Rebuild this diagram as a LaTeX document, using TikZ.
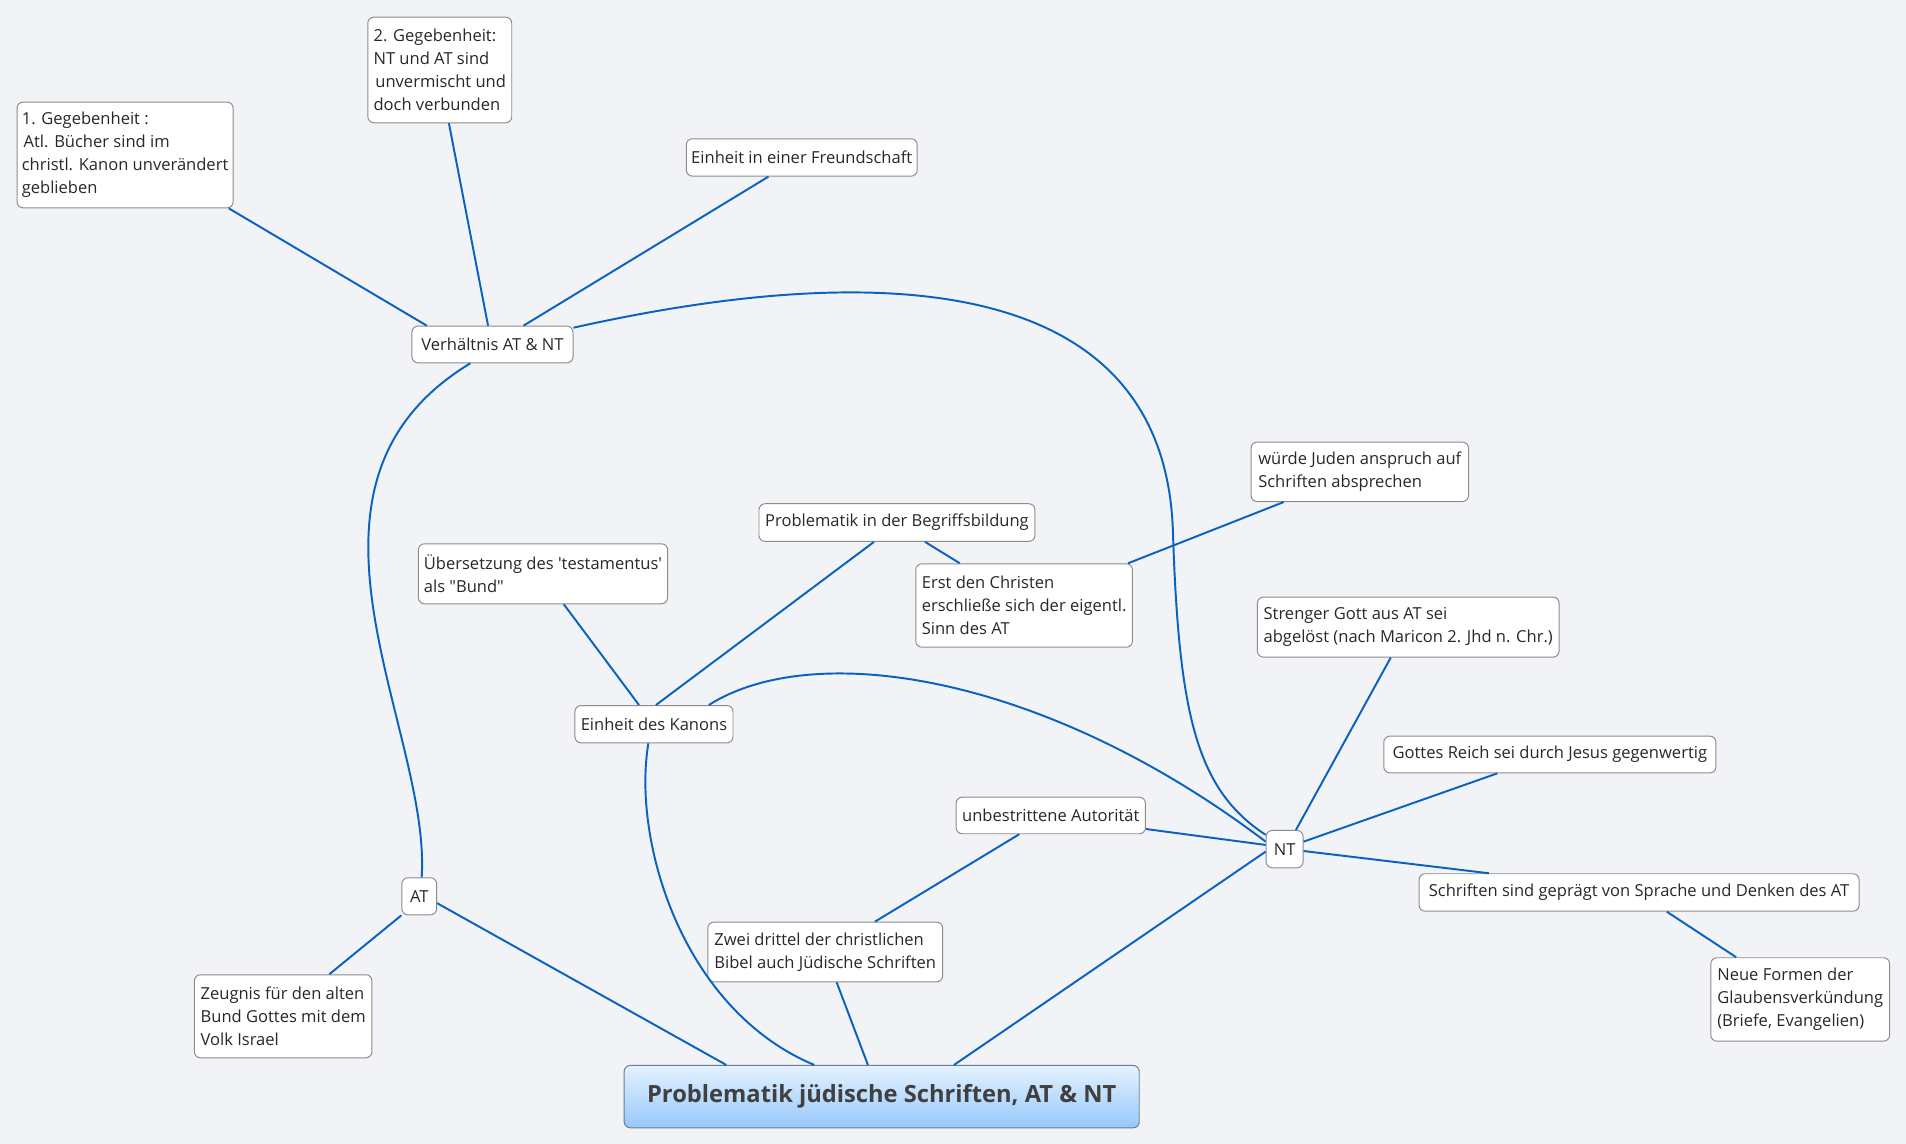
\documentclass[tikz,border=0pt]{standalone}
\usepackage{fontspec}
\setmainfont{Open Sans}[Ligatures=TeXOff]
\definecolor{bg}{RGB}{241,243,246}
\definecolor{ln}{RGB}{10,98,192}
\definecolor{bord}{RGB}{140,140,140}
\definecolor{txt}{RGB}{40,40,40}
\definecolor{mtop}{RGB}{228,242,255}
\definecolor{mbot}{RGB}{150,200,250}
\definecolor{mbord}{RGB}{110,125,140}
\definecolor{mtxt}{RGB}{64,64,64}
\tikzset{
  bx/.style={draw=bord, line width=0.8pt, fill=white, rounded corners=5pt, inner sep=0pt,
    anchor=north west, align=left, text=txt, font=\fontsize{13.6}{19}\selectfont},
  mainbx/.style={draw=mbord, line width=0.8pt, top color=mtop, bottom color=mbot, rounded corners=5pt,
    inner sep=0pt, anchor=north west, text=mtxt, font=\fontsize{19.5}{23}\selectfont\bfseries},
  cn/.style={draw=ln, line width=1.6pt},
}
\begin{document}
\begin{tikzpicture}[x=1pt,y=-1pt]
\path[use as bounding box, fill=bg] (0,0) rectangle (1568,941.1);
% nodes
\node[bx, minimum width=177.8pt, minimum height=87pt] (g1) at (13.6,83.6) {1. Gegebenheit :\\\hspace{1.5pt}Atl. Bücher sind im\\christl. Kanon unverändert\\geblieben};
\node[bx, minimum width=118.4pt, minimum height=86.9pt] (g2) at (302.2,13.7) {2. Gegebenheit:\\NT und AT sind\\\hspace{1.5pt}unvermischt und\\doch verbunden};
\node[bx, minimum width=189.9pt, minimum height=30.7pt] (fr) at (564.2,113.8) {Einheit in einer Freundschaft};
\node[bx, minimum width=132.5pt, minimum height=30.2pt] (vh) at (338.5,267.9) {Verhältnis AT \& NT};
\node[bx, minimum width=178.9pt, minimum height=48.9pt] (wj) at (1028.8,363.3) {würde Juden anspruch auf\\Schriften absprechen};
\node[bx, minimum width=227pt, minimum height=31pt] (pb) at (624,414) {Problematik in der Begriffsbildung};
\node[bx, minimum width=205pt, minimum height=49.3pt] (ub) at (343.8,447) {Übersetzung des 'testamentus'\\als "Bund"};
\node[bx, minimum width=178.2pt, minimum height=68.6pt] (er) at (753,463.4) {Erst den Christen\\erschließe sich der eigentl.\\Sinn des AT};
\node[bx, minimum width=248.2pt, minimum height=49.4pt] (st) at (1034,490.8) {Strenger Gott aus AT sei\\abgelöst (nach Maricon 2. Jhd n. Chr.)};
\node[bx, minimum width=130pt, minimum height=30.7pt] (ek) at (472.6,580) {Einheit des Kanons};
\node[bx, minimum width=273.2pt, minimum height=30.2pt] (gr) at (1138,605.2) {Gottes Reich sei durch Jesus gegenwertig};
\node[bx, minimum width=155.7pt, minimum height=30.1pt] (ua) at (786.2,655.4) {unbestrittene Autorität};
\node[bx, minimum width=30.4pt, minimum height=30.7pt] (nt) at (1041.2,682.8) {NT};
\node[bx, minimum width=28.6pt, minimum height=30.5pt] (at) at (330.2,721.7) {AT};
\node[bx, minimum width=362pt, minimum height=30.8pt] (sc) at (1167,718.4) {Schriften sind geprägt von Sprache und Denken des AT};
\node[bx, minimum width=193.2pt, minimum height=49.1pt] (zd) at (581.9,758.2) {Zwei drittel der christlichen\\Bibel auch Jüdische Schriften};
\node[bx, minimum width=147.1pt, minimum height=68.6pt] (nf) at (1407,787.5) {Neue Formen der\\Glaubensverkündung\\(Briefe, Evangelien)};
\node[bx, minimum width=146.1pt, minimum height=68.3pt] (zg) at (159.5,801.5) {Zeugnis für den alten\\Bund Gottes mit dem\\Volk Israel};
\node[mainbx, minimum width=423.7pt, minimum height=51.3pt] (mn) at (513.1,876.1) {Problematik jüdische Schriften, AT \& NT};
% connectors
\draw[cn] ([xshift=12.6pt]vh.north west) -- ([xshift=-4pt]g1.south east);
\draw[cn] ([xshift=63pt]vh.north west) -- ([xshift=67.1pt]g2.south west);
\draw[cn] ([xshift=92.2pt]vh.north west) -- ([xshift=68pt]fr.south west);
\draw[cn] ([yshift=-1.7pt]vh.north east) .. controls (720,214) and (960,222) .. (965,440)
          .. controls (970,590) and (985,650) .. ([yshift=-4pt]nt.north west);
\draw[cn] ([xshift=48.4pt]vh.south west) .. controls (220,400) and (355,600) .. ([xshift=2pt]at.north);
\draw[cn] (at.south west) -- ([xshift=111.4pt]zg.north west);
\draw[cn] ([yshift=-21.3pt]at.north east) -- ([xshift=84.4pt]mn.north west);
\draw[cn] ([xshift=53.1pt]ek.north west) -- ([xshift=120pt]ub.south west);
\draw[cn] ([xshift=67pt]ek.north west) -- ([xshift=95pt]pb.south west);
\draw[cn] ([xshift=137pt]pb.south west) -- ([xshift=36.6pt]er.north west);
\draw[cn] ([xshift=-4pt]er.north east) -- ([xshift=27.3pt]wj.south west);
\draw[cn] ([xshift=-20.3pt]ek.north east) .. controls (670,525) and (860,555) .. ([yshift=-9.6pt]nt.north west);
\draw[cn] ([xshift=-4.6pt]ek.south) .. controls (520,690) and (560,830) .. ([xshift=156.8pt]mn.north west);
\draw[cn] ([xshift=137.9pt]zd.north west) -- ([xshift=52.3pt]ua.south west);
\draw[cn] ([xshift=106.4pt]zd.south west) -- ([xshift=200.9pt]mn.north west);
\draw[cn] ([yshift=-17.8pt]nt.north west) -- ([xshift=271.7pt]mn.north west);
\draw[cn] ([yshift=-12.3pt]nt.north west) -- ([yshift=-26.6pt]ua.north east);
\draw[cn] ([xshift=-6.3pt]nt.north east) -- ([xshift=110.1pt]st.south west);
\draw[cn] ([yshift=-9.6pt]nt.north east) -- ([xshift=93.8pt]gr.south west);
\draw[cn] ([yshift=-17.3pt]nt.north east) -- ([xshift=57.9pt]sc.north west);
\draw[cn] ([xshift=204.2pt]sc.south west) -- ([xshift=21.3pt]nf.north west);
\end{tikzpicture}
\end{document}
